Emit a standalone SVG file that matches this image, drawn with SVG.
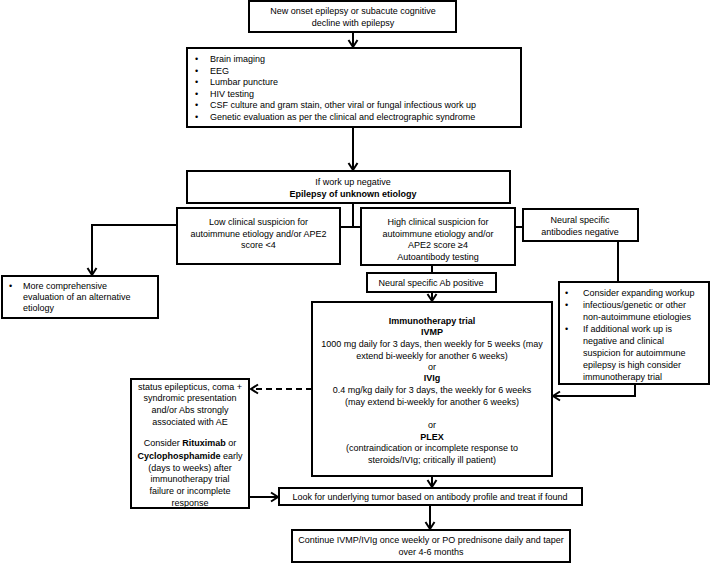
<svg xmlns="http://www.w3.org/2000/svg" width="710" height="563" viewBox="0 0 710 563">
<style>
.box{fill:#fff;stroke:#000;stroke-width:2}
.t{font-family:"Liberation Sans",Arial,sans-serif;font-size:9px;fill:#000}
.c{text-anchor:middle}
.b{font-weight:bold}
.conn{fill:none;stroke:#000;stroke-width:2}
.dash{stroke-dasharray:6 4}
</style>
<defs>
<marker id="arr" viewBox="0 0 12 12" markerWidth="12" markerHeight="12" refX="10" refY="6" orient="auto" markerUnits="userSpaceOnUse">
<path d="M3,1.5 L10,6 L3,10.5" fill="none" stroke="#000" stroke-width="2"/>
</marker>
</defs>
<rect width="710" height="563" fill="#fff"/>
<g id="connectors">
<path class="conn" d="M353,33 V47" marker-end="url(#arr)"/>
<path class="conn" d="M353,127 V170" marker-end="url(#arr)"/>
<path class="conn" d="M353,203 V227 M340,227 H361"/>
<path class="conn" d="M177,225 H92 V275" marker-end="url(#arr)"/>
<path class="conn" d="M515,227 H523"/>
<path class="conn" d="M432,265 V273"/>
<path class="conn" d="M432,292 V301" marker-end="url(#arr)"/>
<path class="conn" d="M618,241 V282"/>
<path class="conn" d="M635,384 V396 H553" marker-end="url(#arr)"/>
<path class="conn dash" d="M312,389 H251" marker-end="url(#arr)"/>
<path class="conn" d="M249,497 H278" marker-end="url(#arr)"/>
<path class="conn" d="M432,476 V487" marker-end="url(#arr)"/>
<path class="conn" d="M430,505 V529" marker-end="url(#arr)"/>
</g>
<g id="n1">
<rect class="box" x="249" y="1" width="207" height="31"/>
<text class="t c" x="353" y="14">New onset epilepsy or subacute cognitive</text>
<text class="t c" x="353" y="26">decline with epilepsy</text>
</g>
<g id="n2">
<rect class="box" x="187" y="48" width="334" height="79"/>
<g class="t">
<text x="195" y="62">•</text><text x="210" y="62">Brain imaging</text>
<text x="195" y="74">•</text><text x="210" y="74">EEG</text>
<text x="195" y="85">•</text><text x="210" y="85">Lumbar puncture</text>
<text x="195" y="97">•</text><text x="210" y="97">HIV testing</text>
<text x="195" y="108">•</text><text x="210" y="108">CSF culture and gram stain, other viral or fungal infectious work up</text>
<text x="195" y="120">•</text><text x="210" y="120">Genetic evaluation as per the clinical and electrographic syndrome</text>
</g>
</g>
<g id="n3">
<rect class="box" x="187" y="171" width="323" height="32"/>
<text class="t c" x="353" y="185">If work up negative</text>
<text class="t c b" x="353" y="197">Epilepsy of unknown etiology</text>
</g>
<g id="n4">
<rect class="box" x="177" y="208" width="163" height="56"/>
<text class="t c" x="258.5" y="225">Low clinical suspicion for</text>
<text class="t c" x="258.5" y="237">autoimmune etiology and/or APE2</text>
<text class="t c" x="258.5" y="248">score &lt;4</text>
</g>
<g id="n5">
<rect class="box" x="361" y="208" width="154" height="57"/>
<text class="t c" x="438" y="225">High clinical suspicion for</text>
<text class="t c" x="438" y="237">autoimmune etiology and/or</text>
<text class="t c" x="438" y="248">APE2 score ≥4</text>
<text class="t c" x="438" y="260">Autoantibody testing</text>
</g>
<g id="n6">
<rect class="box" x="523" y="209" width="115" height="32"/>
<text class="t c" x="580" y="223">Neural specific</text>
<text class="t c" x="580" y="235">antibodies  negative</text>
</g>
<g id="n7">
<rect class="box" x="2" y="276" width="156" height="42"/>
<g class="t">
<text x="9" y="289">•</text><text x="23" y="289">More comprehensive</text>
<text x="23" y="300">evaluation of an alternative</text>
<text x="23" y="311">etiology</text>
</g>
</g>
<g id="n8">
<rect class="box" x="559" y="282" width="150" height="102"/>
<g class="t">
<text x="565" y="296">•</text><text x="583" y="296">Consider expanding workup</text>
<text x="565" y="308">•</text><text x="583" y="308">infectious/genetic or other</text>
<text x="583" y="320">non-autoimmune etiologies</text>
<text x="565" y="332">•</text><text x="583" y="332">If additional work up is</text>
<text x="583" y="344">negative and clinical</text>
<text x="583" y="356">suspicion for autoimmune</text>
<text x="583" y="368">epilepsy is high consider</text>
<text x="583" y="380">immunotherapy trial</text>
</g>
</g>
<g id="n9">
<rect class="box" x="367" y="273" width="129" height="19"/>
<text class="t c" x="431" y="286">Neural specific Ab positive</text>
</g>
<g id="n10">
<rect class="box" x="312" y="302" width="240" height="174"/>
<g class="t c">
<text class="b" x="432" y="324">Immunotherapy trial</text>
<text class="b" x="432" y="335">IVMP</text>
<text x="432" y="347">1000 mg daily for 3 days, then weekly for  5 weeks (may</text>
<text x="432" y="359">extend bi-weekly for another 6 weeks)</text>
<text x="432" y="370">or</text>
<text class="b" x="432" y="381">IVIg</text>
<text x="432" y="393">0.4 mg/kg daily for 3 days, the weekly for 6 weeks</text>
<text x="432" y="405">(may extend bi-weekly for another 6 weeks)</text>
<text x="432" y="428">or</text>
<text class="b" x="432" y="440">PLEX</text>
<text x="432" y="451">(contraindication or incomplete response to</text>
<text x="432" y="463">steroids/IVIg; critically ill patient)</text>
</g>
</g>
<g id="n11">
<rect class="box" x="131" y="379" width="118" height="129"/>
<g class="t c">
<text x="190" y="390">status epilepticus, coma +</text>
<text x="190" y="401">syndromic presentation</text>
<text x="190" y="413">and/or Abs strongly</text>
<text x="190" y="425">associated with AE</text>
<text x="190" y="446">Consider <tspan class="b">Rituximab</tspan> or</text>
<text x="190" y="459"><tspan class="b">Cyclophosphamide</tspan> early</text>
<text x="190" y="471">(days to weeks) after</text>
<text x="190" y="482">immunotherapy trial</text>
<text x="190" y="494">failure or incomplete</text>
<text x="190" y="506">response</text>
</g>
</g>
<g id="n12">
<rect class="box" x="279" y="488" width="303" height="17"/>
<text class="t c" x="430" y="500">Look for underlying tumor based on antibody profile and treat if found</text>
</g>
<g id="n13">
<rect class="box" x="292" y="530" width="278" height="32"/>
<text class="t c" x="431" y="543">Continue IVMP/IVIg once weekly or PO prednisone daily and taper</text>
<text class="t c" x="431" y="555">over 4-6 months</text>
</g>
</svg>
